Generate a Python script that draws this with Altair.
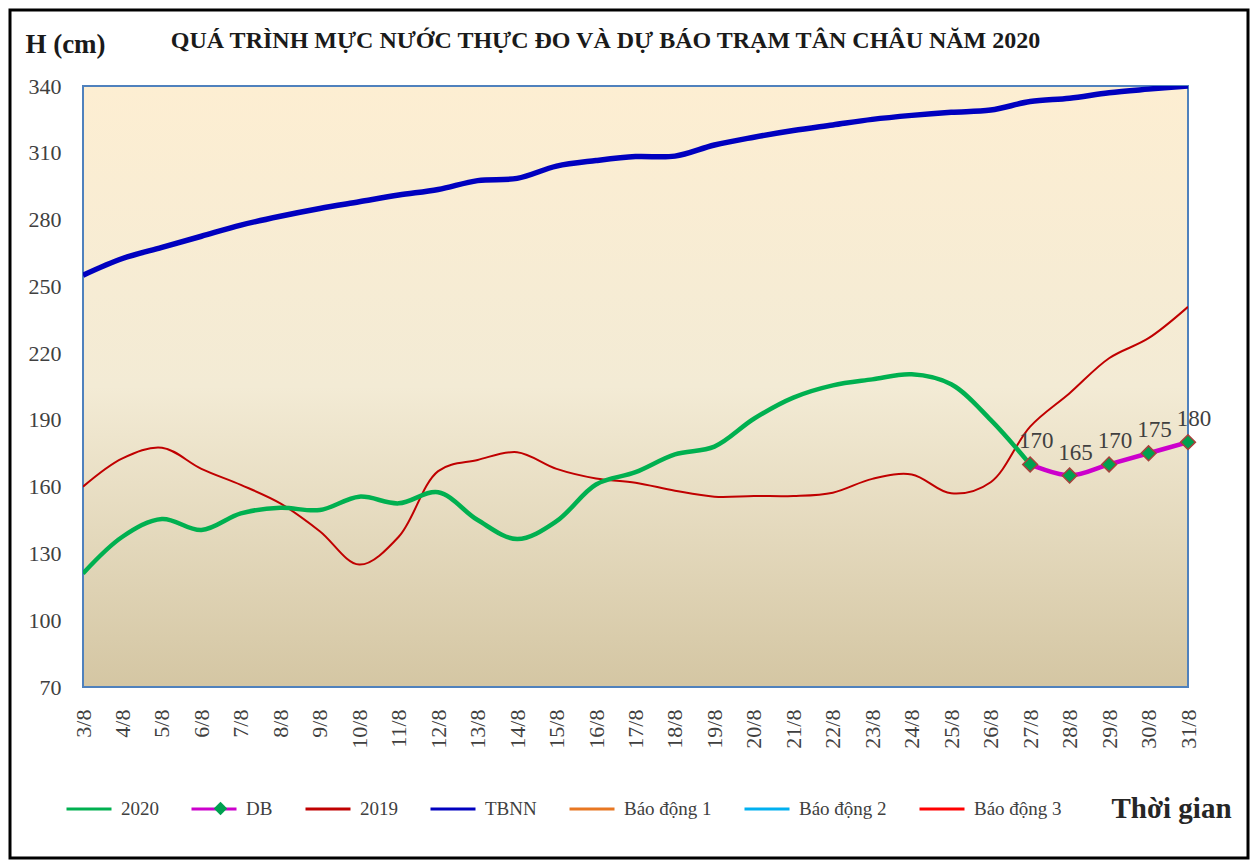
import altair as alt
import pandas as pd

dates = ["3/8", "4/8", "5/8", "6/8", "7/8", "8/8", "9/8", "10/8", "11/8", "12/8",
         "13/8", "14/8", "15/8", "16/8", "17/8", "18/8", "19/8", "20/8", "21/8", "22/8",
         "23/8", "24/8", "25/8", "26/8", "27/8", "28/8", "29/8", "30/8", "31/8"]

h2020 = [121, 137.5, 145.5, 140.5, 148, 150.5, 149.5, 155.5, 152.5, 157.5,
         145, 136.5, 144.5, 161, 166.5, 174.5, 178, 190.5, 200, 205.5,
         208.2, 210.5, 206, 190, 170]

h2019 = [160, 172.7, 177.5, 168, 160.8, 152.5, 140, 125, 137.5, 167,
         172, 175.5, 168, 163.7, 161.8, 158.2, 155.5, 155.8, 155.8, 157.3,
         163.5, 165.5, 157, 162, 187, 202, 217.7, 226.7, 240.8]

tbnn = [255, 262.5, 267.5, 272.5, 277.5, 281.5, 285, 288, 291, 293.5,
        297.5, 298.5, 304, 306.5, 308.3, 308.5, 313.5, 317, 320, 322.5,
        325, 326.8, 328.2, 329.2, 333, 334.5, 337, 338.6, 340]

db_dates = ["27/8", "28/8", "29/8", "30/8", "31/8"]
db_values = [170, 165, 170, 175, 180]

alarm_names = ["Báo động 1", "Báo động 2", "Báo động 3"]
alarm_levels = [350, 400, 450]

series_order = ["2020", "DB", "2019", "TBNN", "Báo động 1", "Báo động 2", "Báo động 3"]
series_colors = ["#00B050", "#CC00CC", "#C00000", "#0000BF", "#E87722", "#00B0F0", "#FF0000"]
series_widths = [4.5, 4.5, 2, 5.5, 2, 2, 2]

rows = []
for d, v in zip(dates, h2020):
    rows.append({"date": d, "series": "2020", "value": v})
for d, v in zip(db_dates, db_values):
    rows.append({"date": d, "series": "DB", "value": v})
for d, v in zip(dates, h2019):
    rows.append({"date": d, "series": "2019", "value": v})
for d, v in zip(dates, tbnn):
    rows.append({"date": d, "series": "TBNN", "value": v})
for name, lvl in zip(alarm_names, alarm_levels):
    rows.append({"date": dates[0], "series": name, "value": lvl})
    rows.append({"date": dates[-1], "series": name, "value": lvl})
df = pd.DataFrame(rows)
db_df = pd.DataFrame({"date": db_dates, "value": db_values, "mk": "DB"})

W, H = 1105, 601
PL, PT, PR, PB = 75, 78, 62, 173
SERIF = "Liberation Serif"

x_enc = alt.X("date:N", sort=dates,
              scale=alt.Scale(type="point", padding=0),
              axis=alt.Axis(labelAngle=-90, labelFont=SERIF, labelFontSize=22,
                            labelColor="#404040", ticks=False, domain=False, grid=False,
                            labelPadding=22,
                            title="Thời gian", titleFont=SERIF, titleFontSize=29,
                            titleFontWeight="bold", titleColor="#262626",
                            titleX=1088, titleY=121, titleAlign="center",
                            titleBaseline="middle", titleAngle=0))
y_enc = alt.Y("value:Q",
              scale=alt.Scale(domain=[70, 340], nice=False, zero=False),
              axis=alt.Axis(values=list(range(70, 341, 30)), labelFont=SERIF,
                            labelFontSize=22, labelColor="#404040", ticks=False,
                            domain=False, grid=False, labelPadding=22,
                            title="H (cm)", titleFont=SERIF, titleFontSize=27,
                            titleFontWeight="bold", titleColor="#1a1a1a",
                            titleAngle=0, titleX=-18, titleY=-42,
                            titleAlign="center", titleBaseline="middle"))

color_enc = alt.Color("series:N",
                      scale=alt.Scale(domain=series_order, range=series_colors),
                      legend=alt.Legend(title=None, orient="none", direction="horizontal",
                                        legendX=-18, legendY=699, symbolType="stroke",
                                        symbolSize=2025, symbolStrokeWidth=3,
                                        columnPadding=26, labelOffset=8,
                                        labelFont=SERIF, labelFontSize=19,
                                        labelColor="#404040", labelLimit=300))

bg = alt.Chart(alt.Data(values=[{}])).mark_rect(
    color=alt.LinearGradient(
        gradient="linear", x1=0, x2=0, y1=0, y2=1,
        stops=[alt.GradientStop(color="#FDEED2", offset=0),
               alt.GradientStop(color="#F3EBD5", offset=0.5),
               alt.GradientStop(color="#D4C6A3", offset=1)]),
    stroke="#4F81BD", strokeWidth=2
).encode(x=alt.value(0), x2=alt.value(W), y=alt.value(0), y2=alt.value(H))

draw_order = ["Báo động 1", "Báo động 2", "Báo động 3", "2019", "TBNN", "2020", "DB"]
line_layers = []
for s in draw_order:
    w = series_widths[series_order.index(s)]
    line_layers.append(
        alt.Chart(df).transform_filter(alt.datum.series == s)
        .mark_line(interpolate="catmull-rom", clip=True, strokeWidth=w)
        .encode(x=x_enc, y=y_enc, color=color_enc)
    )

pts = alt.Chart(db_df).mark_point(filled=True, fill="#00A050",
                                  stroke="#A8403C", strokeWidth=1.5, size=220,
                                  opacity=1).encode(
    x=alt.X("date:N", sort=dates), y="value:Q",
    shape=alt.Shape("mk:N", scale=alt.Scale(domain=["DB"], range=["diamond"]),
                    legend=alt.Legend(title=None, orient="none", legendX=130,
                                      legendY=715, symbolSize=180,
                                      symbolFillColor="#00A050",
                                      symbolStrokeColor="#A8403C",
                                      symbolStrokeWidth=1.5, labelExpr="''",
                                      labelFontSize=1, labelOffset=0,
                                      columnPadding=0)),
)

labels = alt.Chart(db_df).mark_text(dx=6, dy=-23, font=SERIF, fontSize=23,
                                    color="#404040").encode(
    x=alt.X("date:N", sort=dates), y="value:Q", text="value:Q")

frame = alt.Chart(alt.Data(values=[{}])).mark_rect(
    fillOpacity=0, stroke="black", strokeWidth=3
).encode(x=alt.value(-PL + 2), x2=alt.value(W + PR - 2),
         y=alt.value(-PT + 2), y2=alt.value(H + PB - 2))

chart = alt.layer(bg, *line_layers, pts, labels, frame).properties(
    width=W, height=H,
    autosize=alt.AutoSizeParams(type="none"),
    padding={"left": PL, "top": PT, "right": PR, "bottom": PB},
    title=alt.Title("QUÁ TRÌNH MỰC NƯỚC THỰC ĐO VÀ DỰ BÁO TRẠM TÂN CHÂU NĂM 2020",
                    font=SERIF, fontSize=24, fontWeight="bold", color="#1a1a1a",
                    anchor="middle", dx=-30, dy=48, offset=4),
).configure_view(stroke=None).configure_legend(columnPadding=26).configure(background="white")

chart.save("out.html", embed_options={"renderer": "svg", "actions": False})
